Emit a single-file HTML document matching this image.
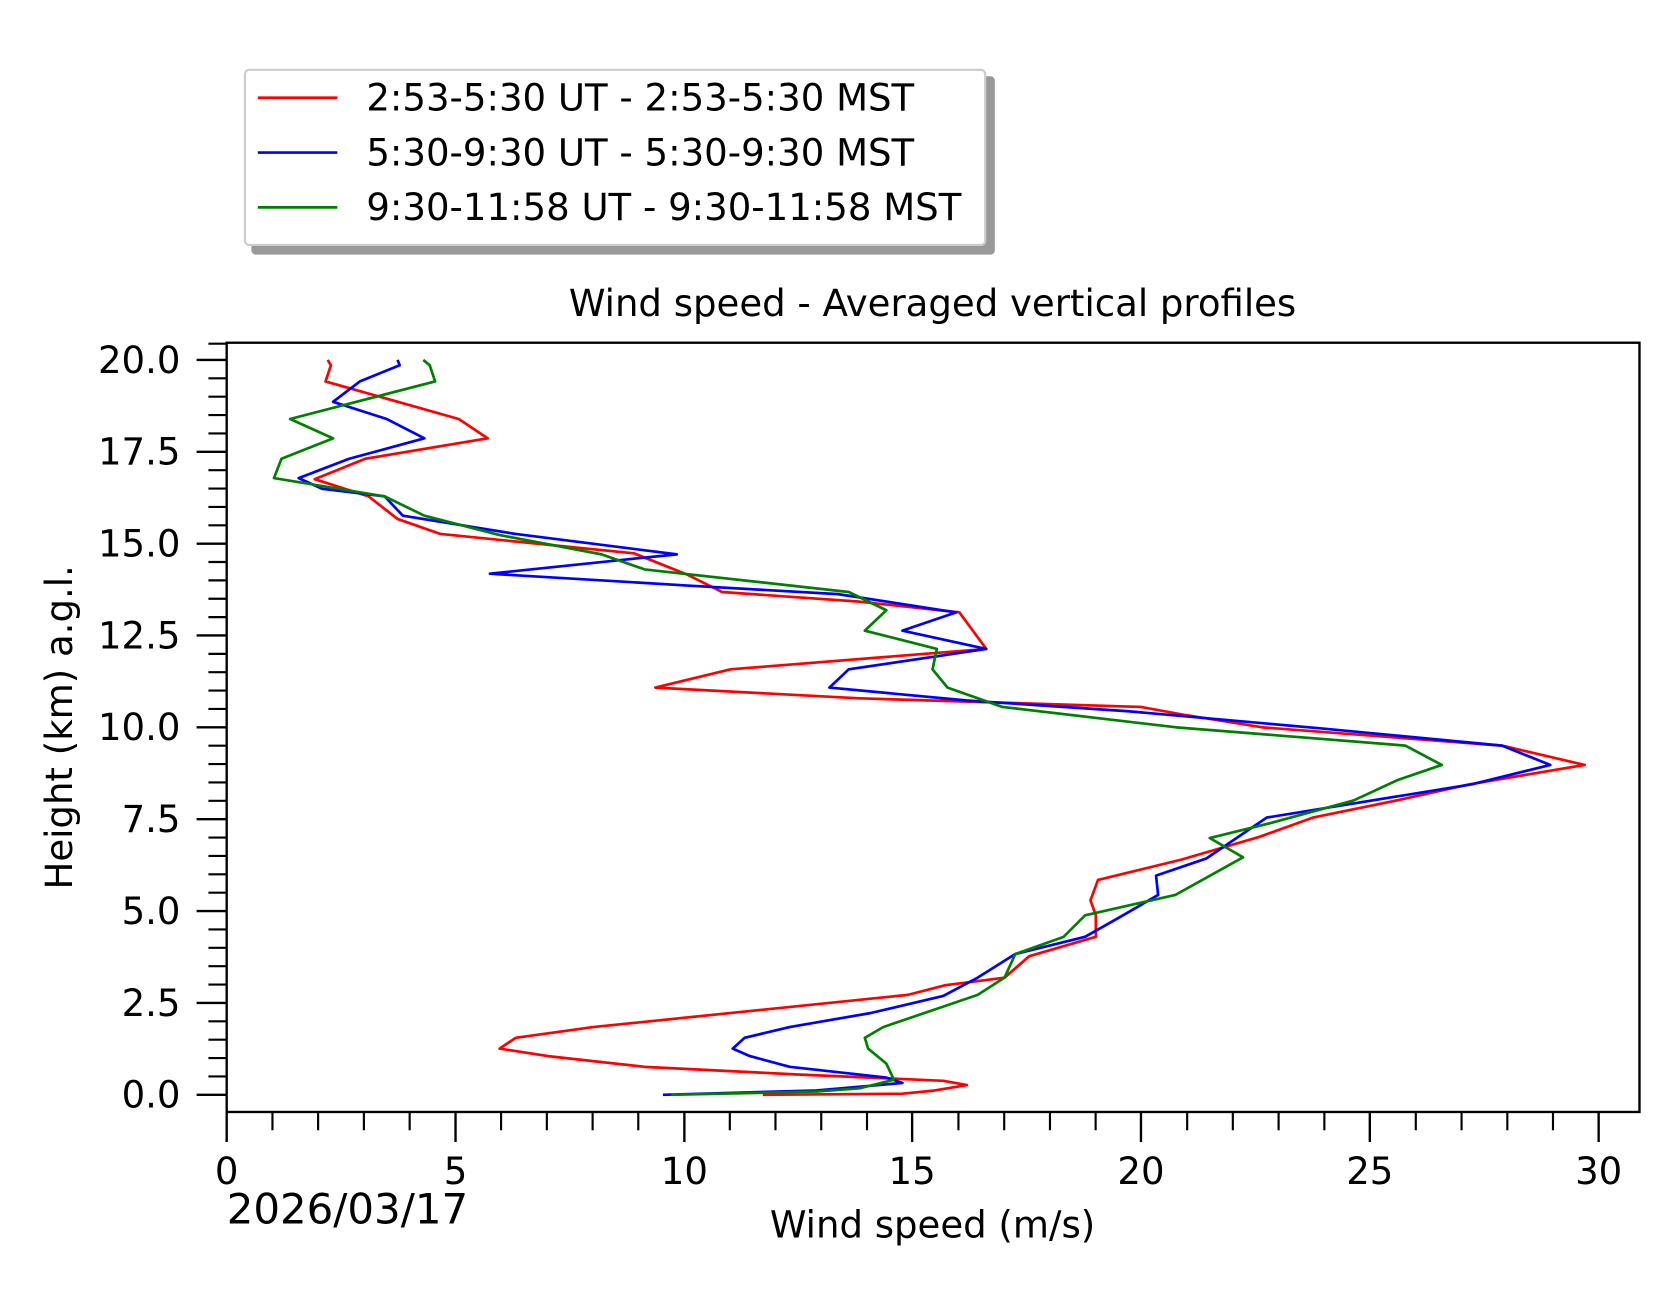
<!DOCTYPE html>
<html><head><meta charset="utf-8"><style>html,body{margin:0;padding:0;background:#fff}svg{display:block}</style></head>
<body>
<svg width="1676" height="1303" viewBox="0 0 1560 1212.8" xmlns="http://www.w3.org/2000/svg" font-family="DejaVu Sans, Liberation Sans, sans-serif">
<rect width="1560" height="1213" fill="#fff"/>
<!-- legend -->
<rect x="234" y="71" width="692" height="166" rx="4" fill="#999"/>
<rect x="228" y="65" width="689" height="163" rx="4" fill="#fff" stroke="#ccc" stroke-width="2"/>
<line x1="240" y1="91" x2="314" y2="91" stroke="red" stroke-width="2.5"/>
<line x1="240" y1="142" x2="314" y2="142" stroke="blue" stroke-width="2.5"/>
<line x1="240" y1="193" x2="314" y2="193" stroke="green" stroke-width="2.5"/>
<g font-size="34.5" fill="#000">
<text x="341" y="103">2:53-5:30 UT - 2:53-5:30 MST</text>
<text x="341" y="154">5:30-9:30 UT - 5:30-9:30 MST</text>
<text x="341" y="205">9:30-11:58 UT - 9:30-11:58 MST</text>
</g>
<text x="868" y="294" font-size="34.5" text-anchor="middle">Wind speed - Averaged vertical profiles</text>
<!-- series -->
<g fill="none" stroke-width="2.5" stroke-linejoin="round">
<polyline stroke="red" points="305,335 308,340 303,355 427,390 454,408 340,427 293,446 343,462 370,483 410,497 590,515 640,535 672,551 800,560 893,570 918,604 680,623 610,640 800,650 1062,658 1100,665 1175,677 1398,694 1475,712 1368,730 1300,745 1222,761 1172,779 1100,800 1022,819 1015,838 1020,852 1020,872 958,890 935,910 880,917 845,926 552,956 480,966 465,976 510,983 600,993 740,1000 878,1006 900,1010 870,1015 840,1018 710,1019"/>
<polyline stroke="blue" points="370,335 372,340 335,355 310,374 360,390 395,408 325,427 278,445 300,455 358,462 375,480 480,497 630,516 590,520 456,534 640,545 780,553 890,570 840,587 918,604 790,623 772,640 900,652 1050,662 1230,678 1398,694 1443,712 1370,730 1179,761 1123,799 1076,815 1078,833 1040,855 1010,872 945,888 910,910 878,927 810,943 735,956 693,966 682,976 698,983 735,993 825,1003 840,1008 760,1015 617,1019"/>
<polyline stroke="green" points="394,335 400,340 405,355 270,390 310,408 262,427 255,445 358,462 395,480 465,498 560,516 600,530 790,551 825,568 805,587 872,604 868,623 882,640 933,658 1095,677 1308,694 1342,712 1301,726 1260,745 1183,766 1126,780 1157,798 1094,833 1010,852 990,872 945,888 935,910 910,926 822,956 805,966 808,976 825,990 832,1005 800,1013 760,1016 625,1019"/>
</g>
<!-- axes -->
<rect x="211" y="319" width="1315" height="716" fill="none" stroke="#000" stroke-width="2.2"/>
<g stroke="#000" stroke-width="2.2">
<line x1="183" y1="1019" x2="211" y2="1019"/><line x1="183" y1="933.5" x2="211" y2="933.5"/><line x1="183" y1="848" x2="211" y2="848"/><line x1="183" y1="762.5" x2="211" y2="762.5"/><line x1="183" y1="677" x2="211" y2="677"/><line x1="183" y1="591.5" x2="211" y2="591.5"/><line x1="183" y1="506" x2="211" y2="506"/><line x1="183" y1="420.5" x2="211" y2="420.5"/><line x1="183" y1="335" x2="211" y2="335"/>
<line x1="211" y1="1035" x2="211" y2="1063"/><line x1="424" y1="1035" x2="424" y2="1063"/><line x1="637" y1="1035" x2="637" y2="1063"/><line x1="849" y1="1035" x2="849" y2="1063"/><line x1="1062" y1="1035" x2="1062" y2="1063"/><line x1="1275" y1="1035" x2="1275" y2="1063"/><line x1="1488" y1="1035" x2="1488" y2="1063"/>
</g>
<g stroke="#000" stroke-width="2">
<path d="M194 1001.9H211M194 984.8H211M194 967.7H211M194 950.6H211M194 916.4H211M194 899.3H211M194 882.2H211M194 865.1H211M194 830.9H211M194 813.8H211M194 796.7H211M194 779.6H211M194 745.4H211M194 728.3H211M194 711.2H211M194 694.1H211M194 659.9H211M194 642.8H211M194 625.7H211M194 608.6H211M194 574.4H211M194 557.3H211M194 540.2H211M194 523.1H211M194 488.9H211M194 471.8H211M194 454.7H211M194 437.6H211M194 403.4H211M194 386.3H211M194 369.2H211M194 352.1H211M194 319.9H211"/>
<path d="M253.6 1035V1052M296.1 1035V1052M338.7 1035V1052M381.3 1035V1052M466.4 1035V1052M509 1035V1052M551.6 1035V1052M594.1 1035V1052M679.3 1035V1052M721.8 1035V1052M764.4 1035V1052M807 1035V1052M892.1 1035V1052M934.7 1035V1052M977.3 1035V1052M1019.8 1035V1052M1105 1035V1052M1147.5 1035V1052M1190.1 1035V1052M1232.7 1035V1052M1317.8 1035V1052M1360.4 1035V1052M1403 1035V1052M1445.5 1035V1052"/>
</g>
<g font-size="34.5" fill="#000" text-anchor="end">
<text x="168" y="1031">0.0</text><text x="168" y="945.5">2.5</text><text x="168" y="860">5.0</text><text x="168" y="774.5">7.5</text><text x="168" y="689">10.0</text><text x="168" y="603.5">12.5</text><text x="168" y="518">15.0</text><text x="168" y="432.5">17.5</text><text x="168" y="347">20.0</text>
</g>
<g font-size="34.5" fill="#000" text-anchor="middle">
<text x="211" y="1102">0</text><text x="424" y="1102">5</text><text x="637" y="1102">10</text><text x="849" y="1102">15</text><text x="1062" y="1102">20</text><text x="1275" y="1102">25</text><text x="1488" y="1102">30</text>
</g>
<text x="868" y="1152" font-size="34.5" text-anchor="middle">Wind speed (m/s)</text>
<text x="211" y="1139" font-size="39">2026/03/17</text>
<text transform="translate(67,677) rotate(-90)" font-size="34.5" text-anchor="middle">Height (km) a.g.l.</text>
</svg>
</body></html>
